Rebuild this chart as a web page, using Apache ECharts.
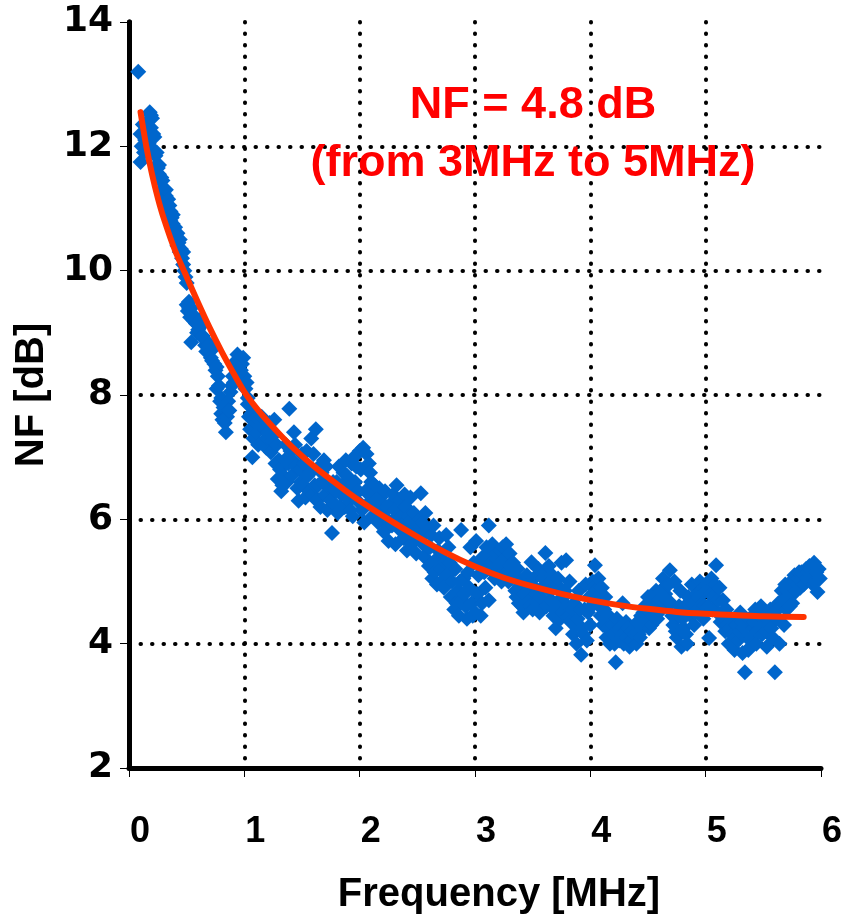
<!DOCTYPE html>
<html>
<head>
<meta charset="utf-8">
<script src="https://cdn.jsdelivr.net/npm/echarts@6/dist/echarts.min.js"></script>
<style>html,body{margin:0;padding:0;background:#fff;}#chart{width:845px;height:920px;}</style>
</head>
<body>
<div id="chart"></div>
<script>
// Measured noise figure points [frequency MHz, NF dB]
const measured = [
[0.08,13.2],
[0.1,12.2],[0.1,11.75],[0.11,12.0],[0.12,12.35],[0.13,11.9],[0.14,12.1],[0.15,12.25],[0.16,12.4],[0.17,12.05],[0.18,12.55],[0.19,12.3],[0.19,12.5],[0.2,12.45],[0.21,11.95],[0.21,12.2],[0.22,12.15],[0.23,11.85],[0.24,11.9],[0.24,11.7],[0.25,11.65],[0.26,11.55],[0.26,11.7],[0.27,11.45],[0.28,11.5],[0.29,11.3],[0.29,11.45],[0.3,11.25],[0.31,11.1],[0.32,11.2],[0.32,11.3],[0.33,11.0],[0.34,10.95],[0.34,11.15],[0.35,11.05],[0.36,10.8],[0.36,10.95],[0.37,10.85],[0.38,10.75],[0.38,10.9],[0.39,10.65],[0.4,10.7],[0.4,10.55],[0.41,10.55],[0.42,10.6],[0.42,10.4],[0.43,10.45],[0.44,10.5],[0.44,10.3],[0.45,10.35],[0.46,10.2],[0.47,10.3],[0.47,10.1],[0.48,10.0],[0.49,9.9],[0.5,9.8],
[0.5,9.45],[0.51,9.35],[0.52,9.5],[0.52,9.4],[0.53,9.25],[0.54,8.85],[0.54,9.4],[0.55,9.3],[0.56,9.2],[0.57,9.25],[0.58,9.15],[0.59,9.0],[0.6,9.05],[0.61,9.2],[0.62,9.1],[0.63,8.95],[0.64,8.95],[0.65,8.9],[0.66,8.8],[0.67,8.7],[0.68,8.85],[0.69,8.8],[0.7,8.7],[0.71,8.6],[0.72,8.55],[0.73,8.75],[0.74,8.5],[0.75,8.4],[0.76,8.45],
[0.76,8.1],[0.77,8.3],[0.78,8.15],[0.79,7.9],[0.8,7.95],[0.8,7.7],[0.81,7.6],[0.82,7.8],[0.83,7.55],[0.84,7.4],[0.85,7.65],[0.86,7.9],[0.87,7.75],[0.88,8.05],[0.89,8.15],[0.9,8.3],[0.91,8.2],[0.92,8.45],[0.93,8.55],[0.94,8.65],[0.95,8.4],[0.96,8.6],[0.97,8.4],[0.98,8.5],[0.99,8.6],[1.0,8.3],[1.01,8.1],[1.02,8.2],[1.03,7.95],[1.03,7.85],
[1.04,7.65],[1.05,7.45],[1.06,7.7],[1.07,7.0],[1.08,7.3],[1.09,7.62],[1.1,7.55],[1.11,7.4],[1.12,7.2],[1.13,7.6],[1.14,7.5],[1.15,7.65],[1.16,7.25],[1.18,7.45],[1.19,7.15],[1.2,7.3],[1.21,7.4],[1.22,7.55],[1.23,7.08],[1.24,7.25],[1.25,7.35],[1.26,7.6],[1.27,6.9],[1.28,7.2],[1.3,6.95],
[1.29,6.65],[1.31,6.8],[1.32,6.45],[1.33,6.55],[1.34,6.7],[1.35,6.95],[1.36,7.2],[1.37,6.6],[1.38,6.9],[1.39,7.78],[1.4,7.1],[1.41,6.7],[1.42,6.95],[1.43,7.4],[1.44,7.2],[1.45,6.85],[1.46,6.5],[1.47,6.3],[1.48,6.8],[1.49,6.6],[1.5,7.05],[1.51,6.55],[1.52,6.9],[1.53,6.35],[1.54,7.1],[1.55,6.7],[1.56,6.45],[1.57,6.75],[1.58,7.3],[1.59,6.4],[1.6,7.05],[1.61,6.55],[1.62,7.45],[1.63,6.3],[1.64,6.55],[1.65,6.85],[1.66,6.2],[1.67,6.75],[1.68,6.6],[1.69,6.95],[1.7,6.4],[1.71,6.85],[1.72,6.15],[1.73,6.35],[1.74,6.5],[1.75,6.3],[1.76,5.78],[1.77,6.6],[1.78,6.25],[1.79,6.45],[1.8,6.6],[1.81,6.1],[1.82,6.85],[1.83,6.2],[1.84,6.4],[1.85,6.55],[1.86,6.75],[1.87,6.2],[1.88,6.95],[1.89,6.7],[1.9,6.5],[1.91,6.3],[1.92,6.15],[1.93,6.9],[1.94,6.05],[1.95,7.0],[1.96,6.6],[1.97,6.85],[1.98,6.3],[1.99,6.45],[2.0,7.1],[2.01,6.8],[2.02,6.15],[2.03,7.15],[2.04,5.95],[2.05,6.45],[2.06,7.05],[2.07,6.25],[2.08,6.9],[2.09,6.75],[2.1,6.6],[2.11,6.05],[2.12,6.4],
[2.13,6.55],[2.14,6.3],[2.15,6.2],[2.16,5.95],[2.17,6.5],[2.18,6.35],[2.19,6.0],[2.2,6.1],[2.21,5.8],[2.22,6.45],[2.23,6.2],[2.24,6.0],[2.25,5.65],[2.26,5.95],[2.27,6.25],[2.28,5.9],[2.29,6.4],[2.3,6.15],[2.31,5.6],[2.32,6.55],[2.33,6.05],[2.34,5.85],[2.35,6.3],[2.36,6.05],[2.37,5.9],[2.38,5.7],[2.39,6.4],[2.4,6.2],[2.41,5.5],[2.42,6.05],[2.43,5.95],[2.44,6.35],[2.45,5.6],[2.46,5.75],[2.47,6.1],[2.48,5.9],[2.49,5.45],[2.5,5.85],[2.51,5.7],[2.52,6.0],[2.53,6.42],[2.54,5.95],[2.55,5.6],[2.56,5.4],[2.57,6.1],[2.58,5.8],[2.59,5.55],[2.6,5.25],[2.61,5.55],[2.62,5.75],[2.63,5.05],[2.64,5.9],[2.65,5.15],[2.66,5.35],[2.67,4.95],[2.68,5.5],[2.69,5.7],[2.7,5.2],[2.71,5.0],[2.72,5.45],[2.73,4.9],[2.74,5.3],[2.75,5.75],[2.76,5.1],[2.77,5.55],[2.78,5.3],[2.79,4.75],[2.8,5.0],[2.81,5.2],[2.82,4.55],[2.83,5.2],[2.84,4.65],[2.85,4.85],[2.86,4.45],[2.87,5.0],[2.88,5.83],[2.89,4.7],[2.9,5.05],[2.91,4.8],[2.92,4.6],[2.93,4.4],[2.94,5.15],[2.95,4.9],[2.96,5.55],[2.97,4.65],[2.98,4.45],[2.99,5.3],[3.0,4.5],[3.01,5.65],[3.02,4.8],[3.03,5.1],[3.04,5.3],[3.05,4.45],[3.06,4.65],
[3.07,5.4],[3.08,5.15],[3.09,4.9],[3.1,5.55],[3.11,5.2],[3.12,5.9],[3.12,4.7],[3.13,5.45],[3.14,5.3],[3.15,5.6],[3.16,5.15],[3.17,5.05],[3.18,5.45],[3.19,5.35],[3.2,5.25],[3.21,5.1],[3.22,5.5],[3.23,5.0],[3.24,5.55],[3.25,5.35],[3.26,5.2],[3.27,5.6],[3.28,5.15],[3.29,5.0],[3.3,5.45],[3.31,5.25],[3.32,5.05],[3.33,5.3],[3.34,5.1],[3.35,4.85],[3.36,4.75],[3.37,5.2],[3.38,4.65],[3.39,4.9],[3.4,5.0],[3.41,4.6],[3.42,4.5],[3.43,4.8],[3.44,4.95],[3.45,5.1],[3.46,4.85],[3.47,4.7],[3.48,4.6],[3.49,5.31],[3.5,4.55],[3.51,5.05],[3.52,4.9],[3.53,4.8],[3.54,4.65],[3.55,5.2],[3.56,4.5],[3.57,4.75],[3.58,4.9],[3.59,5.05],[3.6,5.15],[3.61,5.46],[3.62,4.6],[3.63,4.95],[3.64,5.25],[3.65,4.85],[3.66,4.7],[3.67,5.1],[3.68,4.45],[3.69,4.55],[3.7,4.25],[3.71,4.95],[3.72,5.05],[3.73,4.7],[3.74,4.4],[3.75,5.3],[3.76,4.5],[3.77,4.75],[3.78,4.85],[3.79,5.34],[3.8,4.6],[3.81,4.45],[3.82,5.0],[3.83,4.35],[3.84,4.55],[3.85,4.15],[3.86,4.65],[3.87,4.3],[3.88,4.0],[3.89,4.4],[3.9,4.85],[3.91,4.55],[3.92,3.82],[3.93,4.25],[3.94,4.15],[3.95,4.55],[3.96,4.95],[3.97,4.05],[3.98,4.5],[3.99,4.75],[4.0,4.3],
[4.01,4.6],[4.02,5.0],[4.03,4.9],[4.04,5.26],[4.05,4.85],[4.06,4.75],[4.07,5.05],[4.08,4.6],[4.09,4.45],[4.1,4.9],[4.11,4.3],[4.12,4.55],[4.13,4.75],[4.14,4.1],[4.15,4.25],[4.16,4.45],[4.17,4.0],[4.18,4.2],[4.19,4.3],[4.2,4.15],[4.21,4.0],[4.22,3.7],[4.23,4.4],[4.24,4.25],[4.25,4.05],[4.26,4.25],[4.27,4.1],[4.28,4.65],[4.29,4.0],[4.3,4.2],[4.31,4.35],[4.32,4.1],[4.33,4.25],[4.34,3.95],[4.35,4.05],[4.36,4.2],[4.37,4.05],[4.38,4.15],[4.39,4.3],[4.4,4.0],[4.41,4.35],[4.42,4.15],[4.43,4.1],[4.44,4.45],[4.45,4.25],[4.46,4.5],[4.47,4.6],[4.48,4.35],[4.49,4.55],[4.5,4.75],[4.51,4.25],[4.52,4.5],[4.53,4.3],[4.54,4.45],[4.55,4.65],[4.56,4.6],[4.57,4.85],[4.58,4.4],[4.59,4.55],[4.6,4.7],[4.61,4.85],[4.62,4.55],[4.63,5.05],[4.64,4.65],[4.65,4.8],[4.66,4.7],[4.67,4.95],[4.68,4.95],[4.69,5.18],[4.7,4.65],[4.71,4.45],[4.72,4.3],[4.73,5.0],[4.74,4.2],[4.75,4.1],[4.76,4.45],[4.77,4.6],[4.78,4.85],[4.79,3.95],[4.8,4.4],[4.81,4.25],[4.82,4.6],[4.83,4.15],[4.84,4.0],[4.85,4.75],[4.86,4.6],[4.87,4.45],[4.88,4.95],[4.89,4.65],[4.9,4.3],[4.91,4.5],[4.92,4.8],[4.93,4.55],[4.94,4.75],[4.95,5.0],[4.96,4.85],[4.97,4.65],[4.98,4.4],[4.99,4.6],[5.0,4.85],
[5.01,4.95],[5.02,4.6],[5.03,4.09],[5.04,4.8],[5.05,5.05],[5.06,4.55],[5.07,4.75],[5.08,4.95],[5.09,5.26],[5.1,4.5],[5.11,4.7],[5.12,4.9],[5.13,4.35],[5.14,4.5],[5.15,4.7],[5.16,4.4],[5.17,4.2],[5.18,4.55],[5.19,4.3],[5.2,4.0],[5.21,4.25],[5.22,4.4],[5.23,4.15],[5.24,4.35],[5.25,3.9],[5.26,4.1],[5.27,4.3],[5.28,4.05],[5.29,4.2],[5.3,4.5],[5.31,4.35],[5.32,3.85],[5.33,4.25],[5.34,3.54],[5.35,4.3],[5.36,4.1],[5.37,3.9],[5.38,4.4],[5.39,3.95],[5.4,4.1],[5.41,4.25],[5.42,4.35],[5.43,4.55],[5.44,4.0],[5.45,4.2],[5.46,4.35],[5.47,4.45],[5.48,4.6],[5.49,4.15],[5.5,4.3],[5.51,4.45],[5.52,4.2],[5.53,3.95],[5.54,4.3],[5.55,4.4],[5.56,4.55],[5.57,4.25],[5.58,4.1],[5.59,4.5],[5.6,3.54],[5.61,4.4],[5.62,4.55],[5.63,4.65],[5.64,4.0],[5.65,4.6],[5.66,4.85],[5.67,4.7],[5.68,4.3],[5.69,4.95],[5.7,4.55],[5.71,4.85],[5.72,4.75],[5.73,4.6],[5.74,5.0],[5.75,4.65],[5.76,4.8],[5.77,5.1],[5.78,4.85],[5.79,4.95],[5.8,5.05],[5.81,5.15],[5.82,4.9],[5.83,5.15],[5.84,5.05],[5.85,4.95],[5.86,5.1],[5.87,5.2],[5.88,5.05],[5.89,5.15],[5.9,5.25],[5.91,5.2],[5.92,5.1],[5.93,4.95],[5.94,5.3],[5.95,5.0],[5.96,5.15],[5.97,4.83],[5.98,5.2],[5.99,5.05]
];

// Fitted trend curve [frequency MHz, NF dB]
const fitCurve = [
[0.1,12.55],[0.15,12.0],[0.2,11.55],[0.25,11.17],[0.3,10.85],[0.4,10.32],[0.5,9.9],[0.6,9.48],[0.7,9.08],[0.8,8.71],[0.9,8.37],[1.0,8.05],[1.1,7.8],[1.2,7.58],[1.3,7.38],[1.4,7.19],[1.5,7.02],[1.6,6.86],[1.7,6.71],[1.8,6.57],[1.9,6.43],[2.0,6.3],[2.25,6.0],[2.5,5.72],[2.75,5.46],[3.0,5.24],[3.25,5.06],[3.5,4.92],[3.75,4.8],[4.0,4.7],[4.25,4.62],[4.5,4.56],[4.75,4.51],[5.0,4.48],[5.25,4.46],[5.5,4.44],[5.85,4.43]
];

const xTicks = [0, 1, 2, 3, 4, 5, 6];
const yTicks = [2, 4, 6, 8, 10, 12, 14];
const annotationLines = ['NF = 4.8 dB', '(from 3MHz to 5MHz)'];
const xTitle = 'Frequency [MHz]';
const yTitle = 'NF [dB]';

const chart = echarts.init(document.getElementById('chart'), null, {renderer: 'canvas'});
const dotted = {color: '#000', width: 4, type: [0.5, 11], cap: 'round'};
const font = 'Liberation Sans, Arial, sans-serif';

chart.setOption({
  animation: false,
  backgroundColor: '#fff',
  title: {
    text: annotationLines.join('\n'),
    left: 528, top: 72, textAlign: 'center',
    textStyle: {color: '#ff0000', fontSize: 45, fontWeight: 'bold', fontFamily: font, lineHeight: 58}
  },
  grid: {left: 129, right: 21, top: 22, bottom: 152, containLabel: false},
  xAxis: [{
    type: 'value', min: xTicks[0], max: xTicks[xTicks.length - 1], interval: 1,
    name: xTitle, nameLocation: 'middle', nameGap: 107,
    nameTextStyle: {color: '#000', fontSize: 40, fontWeight: 'bold', fontFamily: 'Liberation Sans Narrow, ' + font, padding: [0, 0, 0, 48]},
    axisLine: {show: true, onZero: false, lineStyle: {color: '#000', width: 5}},
    axisTick: {show: true, length: 9, lineStyle: {color: '#000', width: 1}},
    axisLabel: {color: '#000', fontSize: 36, fontWeight: 'bold', fontFamily: 'Liberation Sans Narrow, ' + font, margin: 46, padding: [0, 0, 0, 22]},
    splitLine: {show: true, showMinLine: false, showMaxLine: false, lineStyle: dotted}
  }],
  yAxis: [{
    type: 'value', min: yTicks[0], max: yTicks[yTicks.length - 1], interval: 2,
    name: yTitle, nameLocation: 'middle', nameGap: 74, nameRotate: 90,
    nameTextStyle: {color: '#000', fontSize: 40, fontWeight: 'bold', fontFamily: font},
    axisLine: {show: true, onZero: false, lineStyle: {color: '#000', width: 5}},
    axisTick: {show: true, length: 9, lineStyle: {color: '#000', width: 1}},
    axisLabel: {color: '#000', fontSize: 36, fontWeight: 'bold', fontFamily: 'DejaVu Sans, ' + font, margin: 16},
    splitLine: {show: true, showMinLine: false, showMaxLine: false, lineStyle: dotted}
  }, {
    type: 'value', position: 'right', min: yTicks[0], max: yTicks[yTicks.length - 1], interval: 2,
    axisLine: {show: true, lineStyle: {color: '#000', width: 5}},
    axisTick: {show: false}, axisLabel: {show: false}, splitLine: {show: false}
  }],
  series: [{
    type: 'scatter', name: 'Measured', data: measured,
    symbol: 'diamond', symbolSize: 16,
    itemStyle: {color: '#0066cc', opacity: 1}, z: 2
  }, {
    type: 'line', name: 'Fit', data: fitCurve, smooth: 0.25, showSymbol: false,
    lineStyle: {color: '#ff3300', width: 6, cap: 'round', join: 'round'}, z: 3
  }]
});
</script>
</body>
</html>
